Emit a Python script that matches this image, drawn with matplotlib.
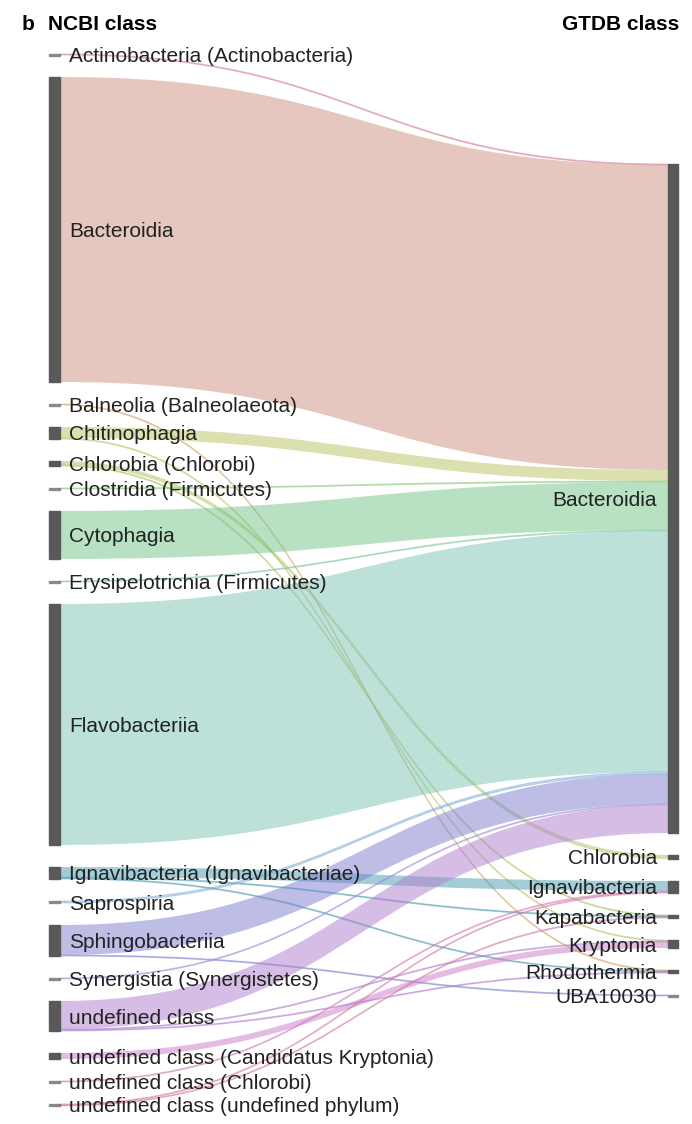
import matplotlib
matplotlib.use('Agg')
import matplotlib.pyplot as plt
from matplotlib.path import Path
from matplotlib.patches import PathPatch, Rectangle

# NCBI classes (left) and GTDB classes (right)
ncbi = ['Actinobacteria (Actinobacteria)', 'Bacteroidia', 'Balneolia (Balneolaeota)',
        'Chitinophagia', 'Chlorobia (Chlorobi)', 'Clostridia (Firmicutes)', 'Cytophagia',
        'Erysipelotrichia (Firmicutes)', 'Flavobacteriia', 'Ignavibacteria (Ignavibacteriae)',
        'Saprospiria', 'Sphingobacteriia', 'Synergistia (Synergistetes)', 'undefined class',
        'undefined class (Candidatus Kryptonia)', 'undefined class (Chlorobi)',
        'undefined class (undefined phylum)']
gtdb = ['Bacteroidia', 'Chlorobia', 'Ignavibacteria', 'Kapabacteria', 'Kryptonia',
        'Rhodothermia', 'UBA10030']

# flows: source (ncbi index), target (gtdb index), genome count
flow_src = [0, 1, 2, 3, 3, 4, 4, 5, 6, 7, 8, 9, 9, 9, 10, 11, 11, 12, 13, 13, 13, 14, 15, 16, 16]
flow_dst = [0, 0, 5, 0, 4, 1, 3, 0, 0, 0, 0, 2, 3, 5, 0, 0, 6, 0, 0, 4, 5, 4, 2, 2, 3]
flow_n = [1, 305, 1, 11, 1, 4, 1, 1, 48, 1, 241, 10, 1, 1, 2, 30, 1, 1, 28, 1, 1, 6, 1, 1, 1]

# styling
colors = ['#d77a9a', '#cd9181', '#d4a060', '#b9c35f', '#a5c35a', '#8cc878', '#73c387',
          '#7ac8a0', '#7dc3b5', '#4b9baf', '#7aa8d8', '#7d7dcd', '#9a8cd8', '#af7dcd',
          '#c878c8', '#d07ab4', '#d47aa0']
node_color = '#595959'
gap = 22
mid = 580
xl0, xl1 = 49, 60
xr0, xr1 = 668, 678

left_tot = [0] * len(ncbi)
right_tot = [0] * len(gtdb)
for s, d, n in zip(flow_src, flow_dst, flow_n):
    left_tot[s] += n
    right_tot[d] += n


def tops(totals):
    h = sum(totals) + gap * (len(totals) - 1)
    y = mid - h / 2
    out = []
    for t in totals:
        out.append(y)
        y += t + gap
    return out


ltop = tops(left_tot)
rtop = tops(right_tot)

fig = plt.figure(figsize=(6.92, 11.24), dpi=100)
ax = fig.add_axes([0, 0, 1, 1])
ax.set_xlim(0, 692)
ax.set_ylim(1124, 0)
ax.axis('off')
plt.rcParams['font.family'] = ['Liberation Sans', 'DejaVu Sans']

# offsets inside nodes
lpos = list(ltop)
rpos = list(rtop)
order_out = sorted(range(len(flow_n)), key=lambda i: (flow_src[i], flow_dst[i]))
y_start = {}
for i in order_out:
    y_start[i] = lpos[flow_src[i]]
    lpos[flow_src[i]] += flow_n[i]
order_in = sorted(range(len(flow_n)), key=lambda i: (flow_dst[i], flow_src[i]))
y_end = {}
for i in order_in:
    y_end[i] = rpos[flow_dst[i]]
    rpos[flow_dst[i]] += flow_n[i]

xm = (xl1 + xr0) / 2
for i in range(len(flow_n)):
    a, b, v = y_start[i], y_end[i], flow_n[i]
    verts = [(xl1, a), (xm, a), (xm, b), (xr0, b),
             (xr0, b + v), (xm, b + v), (xm, a + v), (xl1, a + v), (xl1, a)]
    codes = [Path.MOVETO, Path.CURVE4, Path.CURVE4, Path.CURVE4,
             Path.LINETO, Path.CURVE4, Path.CURVE4, Path.CURVE4, Path.CLOSEPOLY]
    c = colors[flow_src[i]]
    thin = v <= 2
    ax.add_patch(PathPatch(Path(verts, codes), facecolor=c, edgecolor=c,
                           lw=0.7 if thin else 0, alpha=0.45 if thin else 0.5, zorder=2))

for k, name in enumerate(ncbi):
    h = max(left_tot[k], 2)
    y0 = ltop[k] + left_tot[k] / 2 - h / 2
    ax.add_patch(Rectangle((xl0, y0), xl1 - xl0, h, color=node_color,
                           alpha=1 if left_tot[k] > 2 else 0.6, zorder=3))
    ax.text(69, ltop[k] + left_tot[k] / 2, name, fontsize=15, color='#222222',
            va='center_baseline', ha='left', zorder=4)

for k, name in enumerate(gtdb):
    h = max(right_tot[k], 2)
    y0 = rtop[k] + right_tot[k] / 2 - h / 2
    ax.add_patch(Rectangle((xr0, y0), xr1 - xr0, h, color=node_color,
                           alpha=1 if right_tot[k] > 2 else 0.6, zorder=3))
    ax.text(657, rtop[k] + right_tot[k] / 2, name, fontsize=15, color='#222222',
            va='center_baseline', ha='right', zorder=4)

ax.text(22, 22, 'b', fontsize=15, fontweight='bold', va='center_baseline')
ax.text(48, 22, 'NCBI class', fontsize=15, fontweight='bold', va='center_baseline')
ax.text(679, 22, 'GTDB class', fontsize=15, fontweight='bold', va='center_baseline', ha='right')

fig.savefig('out.png', dpi=100)
